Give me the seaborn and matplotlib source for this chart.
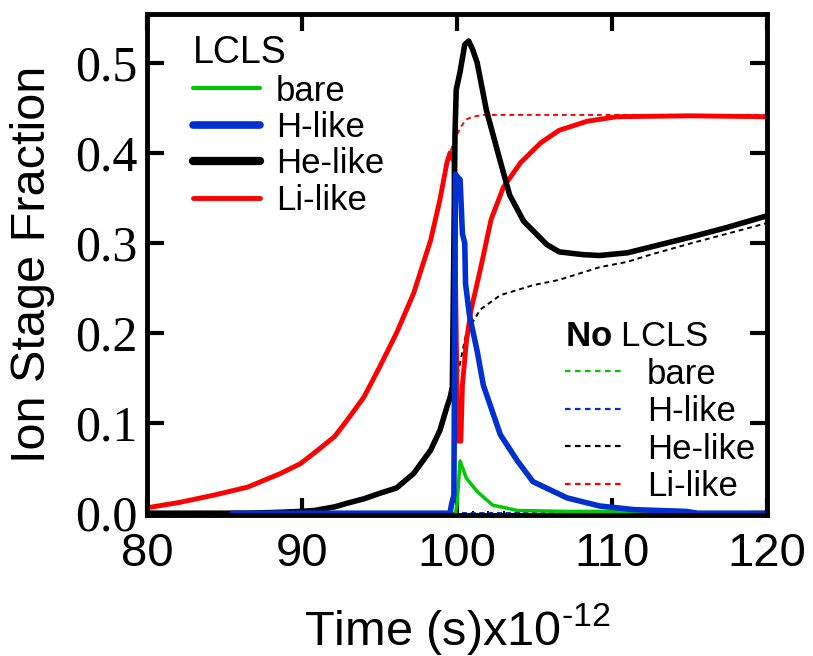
import numpy as np
import pandas as pd
import matplotlib
matplotlib.use("Agg")
import matplotlib.pyplot as plt
from matplotlib.lines import Line2D
from matplotlib.ticker import MultipleLocator, FormatStrFormatter
import seaborn as sns

# ---- data: ion stage fractions vs time (x1e-12 s) ----
# shared pre-pulse rise (identical with and without LCLS)
t_rise = [80.0, 82.1, 84.3, 86.5, 88.6, 89.9, 90.8, 92.1, 92.9, 94.0, 95.0,
          96.1, 97.2, 98.3, 98.9, 99.35, 99.55]
li_rise = [0.006, 0.012, 0.020, 0.029, 0.044, 0.055, 0.067, 0.085, 0.103,
           0.129, 0.162, 0.200, 0.244, 0.303, 0.348, 0.389, 0.400]
he_rise = [0.0, 0.0, 0.0, 0.0, 0.001, 0.002, 0.003, 0.007, 0.011, 0.016,
           0.022, 0.028, 0.044, 0.070, 0.092, 0.118, 0.128]

# with LCLS
t_li_lcls = [99.8, 99.95, 100.05, 100.25, 100.35, 100.6, 100.9, 101.5, 102.2,
             103.0, 104.1, 105.4, 106.6, 108.4, 110.3, 115.0, 120.0]
li_lcls = [0.390, 0.200, 0.080, 0.080, 0.142, 0.190, 0.225, 0.270, 0.326,
           0.362, 0.389, 0.411, 0.425, 0.435, 0.440, 0.441, 0.440]

t_he_lcls = [99.7, 99.8, 99.87, 99.95, 100.2, 100.5, 100.75, 101.0, 101.3,
             101.9, 102.8, 103.4, 104.3, 105.8, 106.6, 108.1, 109.2, 111.0,
             113.1, 115.2, 117.4, 120.0]
he_lcls = [0.140, 0.300, 0.420, 0.470, 0.490, 0.520, 0.524, 0.515, 0.500,
           0.447, 0.390, 0.353, 0.324, 0.298, 0.290, 0.287, 0.286, 0.289,
           0.298, 0.307, 0.317, 0.330]

t_h_lcls = [85.5, 99.55, 99.65, 99.8, 99.9, 100.2, 100.35, 100.5, 100.55,
            100.8, 101.3, 101.7, 102.8, 103.9, 104.9, 107.1, 109.2, 111.4,
            113.0, 114.8, 115.5, 120.0]
h_lcls = [0.0, 0.0, 0.010, 0.020, 0.376, 0.370, 0.310, 0.300, 0.255, 0.220,
          0.180, 0.142, 0.087, 0.058, 0.035, 0.017, 0.008, 0.004, 0.003,
          0.002, 0.0, 0.0]

t_bare_lcls = [99.9, 100.0, 100.2, 100.6, 101.3, 102.3, 103.9, 107.0, 110.0,
               114.8]
bare_lcls = [0.0, 0.010, 0.058, 0.039, 0.024, 0.009, 0.003, 0.002, 0.002,
             0.002]

# without LCLS
t_li_nolcls = [99.9, 100.3, 100.6, 101.0, 101.7, 120.0]
li_nolcls = [0.417, 0.430, 0.437, 0.440, 0.442, 0.442]

t_he_nolcls = [99.7, 100.0, 100.6, 101.5, 102.8, 104.9, 106.6, 109.2, 111.0,
               112.5, 115.2, 117.4, 120.0]
he_nolcls = [0.140, 0.150, 0.200, 0.226, 0.242, 0.253, 0.259, 0.273, 0.279,
             0.287, 0.300, 0.310, 0.322]

t_flat = [80.0, 120.0]
h_nolcls = [0.0, 0.0]
bare_nolcls = [0.0, 0.0]

stage_labels = ["bare", "H-like", "He-like", "Li-like"]
stage_colors = {"bare": "#00c800", "H-like": "#0030d0",
                "He-like": "#000000", "Li-like": "#ff0000"}

# ---- styling ----
sns.set_theme(style="ticks")
plt.rcParams["font.family"] = ["Liberation Sans", "DejaVu Sans"]
plt.rcParams["mathtext.fontset"] = "custom"
plt.rcParams["mathtext.rm"] = "Liberation Sans"
plt.rcParams["mathtext.bf"] = "Liberation Sans:bold"
plt.rcParams["mathtext.it"] = "Liberation Sans:italic"
for key in ["text.color", "axes.labelcolor", "xtick.color", "ytick.color",
            "axes.edgecolor"]:
    plt.rcParams[key] = "black"

fig = plt.figure(figsize=(8.13, 6.56), dpi=100)
ax = fig.add_axes([147 / 813, 1 - 515 / 656, 620 / 813, 501 / 656])

def draw(t, f, stage, lw, dashed=False, z=2):
    df = pd.DataFrame({"t": t, "f": f})
    kw = dict(color=stage_colors[stage], lw=lw, zorder=z)
    if dashed:
        kw["dashes"] = (2.5, 2.0)
    sns.lineplot(data=df, x="t", y="f", ax=ax, estimator=None, sort=False,
                 legend=False, **kw)

# no-LCLS runs (thin dashed)
draw(t_flat, bare_nolcls, "bare", 1.4, dashed=True, z=2)
draw(t_flat, h_nolcls, "H-like", 1.4, dashed=True, z=2)
draw(t_rise + t_he_nolcls, he_rise + he_nolcls, "He-like", 1.4, dashed=True, z=2)
draw(t_rise + t_li_nolcls, li_rise + li_nolcls, "Li-like", 1.4, dashed=True, z=2)

# LCLS runs (solid)
draw(t_rise + t_li_lcls, li_rise + li_lcls, "Li-like", 3.5, z=3)
draw(t_bare_lcls, bare_lcls, "bare", 2.5, z=3)
draw(t_rise + t_he_lcls, he_rise + he_lcls, "He-like", 4.0, z=4)
draw(t_h_lcls, h_lcls, "H-like", 4.0, z=4)

ax.set_xlim(80, 120)
ax.set_ylim(-0.002, 0.554)
ax.xaxis.set_major_locator(MultipleLocator(10))
ax.xaxis.set_minor_locator(MultipleLocator(1))
ax.yaxis.set_major_locator(MultipleLocator(0.1))
ax.yaxis.set_major_formatter(FormatStrFormatter("%.1f"))

for s in ax.spines.values():
    s.set_linewidth(3.5)
    s.set_color("black")
    s.set_zorder(6)
ax.tick_params(which="major", direction="in", length=12, width=3,
               top=True, right=True, color="black", zorder=6)
ax.tick_params(which="minor", direction="in", length=3, width=1.5,
               bottom=True, top=False, left=False, right=False, color="black")
ax.tick_params(axis="x", which="major", labelsize=34, pad=12.5)
ax.tick_params(axis="y", which="major", labelsize=36, pad=7)
for lab in ax.get_yticklabels():
    lab.set_fontfamily("Liberation Serif")

ax.set_xlabel("Time (s)x10$^{\\mathregular{\u2010}12}$", fontsize=35,
              labelpad=17.5)
ax.set_ylabel("Ion Stage Fraction", fontsize=35, labelpad=14.5)

# legends
h_solid = [Line2D([], [], color=stage_colors["bare"], lw=3.0),
           Line2D([], [], color=stage_colors["H-like"], lw=5.5),
           Line2D([], [], color=stage_colors["He-like"], lw=6.0),
           Line2D([], [], color=stage_colors["Li-like"], lw=3.5)]
leg1 = ax.legend(h_solid, stage_labels, title="LCLS", loc="upper left",
                 bbox_to_anchor=(0.074, 0.958), frameon=False, fontsize=25,
                 title_fontsize=27, labelspacing=0.1, handlelength=1.93,
                 handletextpad=0.46, borderpad=0, borderaxespad=0,
                 alignment="left")
ax.add_artist(leg1)

h_dash = [Line2D([], [], color=stage_colors[s], lw=1.6, dashes=(2.5, 2.0))
          for s in stage_labels]
leg2 = ax.legend(h_dash, stage_labels, title=r"$\mathbf{No}$ LCLS",
                 loc="upper left", bbox_to_anchor=(0.674, 0.389),
                 frameon=False, fontsize=25, title_fontsize=25,
                 labelspacing=0.13, handlelength=1.7, handletextpad=0.66,
                 borderpad=0, borderaxespad=0, alignment="left")

fig.savefig("out.png", dpi=100)
